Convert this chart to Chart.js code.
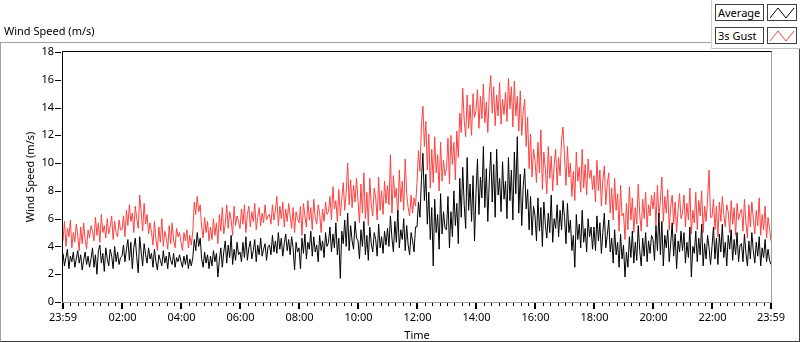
<!DOCTYPE html>
<html>
<head>
<meta charset="utf-8">
<title>Wind Speed</title>
<script src="https://cdn.jsdelivr.net/npm/chart.js@4"></script>
<style>
  html, body { margin: 0; padding: 0; background: #fff; }
  body { font-family: "Noto Sans", "Liberation Sans", sans-serif; font-size: 11px; color: #000; }
  #wrap { position: relative; width: 800px; height: 342px; overflow: hidden; }
  #panel {
    position: absolute; left: 0; top: 42px; width: 800px; height: 300px; box-sizing: border-box;
    border-top: 1px solid #a0a0a0; border-left: 1px solid #a0a0a0;
    border-right: 1px solid #404040; border-bottom: 1px solid #404040;
  }
  #windChart { position: absolute; left: 0; top: 0; }
  #title { position: absolute; left: 4px; top: 24px; line-height: 14px; white-space: nowrap; }
  #legend {
    position: absolute; left: 711px; top: 0; width: 89px; height: 49px; background: #fff;
    border-left: 1px solid #d0d0d0; border-bottom: 1px solid #c0c0c0; box-sizing: border-box;
  }
  .lg-name, .lg-icon {
    position: absolute; height: 17px; box-sizing: border-box; border: 1px solid #404040;
    background: #fff; line-height: 15px; white-space: nowrap;
  }
  .lg-name { left: 3px; width: 49px; padding-left: 2px; }
  .lg-icon { left: 55px; width: 30px; }
  .lg-icon svg { display: block; }
</style>
</head>
<body>
<div id="wrap">
  <div id="panel"></div>
  <canvas id="windChart" width="800" height="342"></canvas>
  <div id="title">Wind Speed (m/s)</div>
  <div id="legend">
    <div class="lg-name" style="top:4px">Average</div>
    <div class="lg-icon" style="top:4px"><svg width="28" height="15"><polyline points="2,13 10,3 18,13 26,3" fill="none" stroke="#000" stroke-width="1"/></svg></div>
    <div class="lg-name" style="top:27px">3s Gust</div>
    <div class="lg-icon" style="top:27px"><svg width="28" height="15"><polyline points="2,13 10,3 18,13 26,3" fill="none" stroke="#ff4040" stroke-width="1"/></svg></div>
  </div>
</div>
<script>
// one sample every 3 minutes starting at 23:59
const SAMPLE_STEP = 3;

const avgSpeed = [
  3.5, 2.6, 3.2, 3.8, 2.4, 3.3, 2.9, 3.6, 2.5, 3.1, 3.7, 2.8, 3.4, 2.3, 3.0, 3.6, 2.7, 3.3, 2.5, 3.1,
  3.9, 2.5, 3.4, 2.0, 3.7, 4.1, 2.8, 3.5, 2.2, 3.9, 3.1, 2.6, 3.8, 3.3, 2.4, 4.0, 2.9, 3.6, 2.7, 3.2,
  3.3, 4.1, 2.9, 3.8, 4.5, 3.0, 4.3, 2.4, 3.9, 4.6, 3.2, 2.1, 4.7, 3.6, 2.6, 4.2, 3.4, 2.8, 3.9, 3.1,
  3.5, 2.5, 3.8, 2.9, 2.3, 3.4, 3.0, 2.6, 3.7, 2.8, 3.3, 2.4, 3.6, 3.0, 2.7, 3.5, 2.5, 3.2, 2.9, 3.4,
  2.9, 2.5, 3.3, 2.7, 3.4, 2.4, 3.1, 2.6, 3.2, 4.5, 3.7, 5.0, 4.0, 4.6, 3.1, 2.5, 3.6, 2.8, 3.4, 2.4,
  3.3, 2.6, 3.7, 2.9, 3.5, 1.8, 3.0, 3.9, 2.5, 3.6, 4.4, 2.8, 4.1, 3.2, 4.8, 2.7, 3.8, 3.0, 4.3, 3.4,
  3.6, 2.9, 4.3, 3.2, 4.7, 3.0, 3.9, 4.4, 3.1, 3.7, 4.5, 2.9, 4.1, 3.4, 4.6, 3.3, 3.8, 4.2, 3.0, 4.0,
  4.1, 3.4, 4.8, 3.6, 4.4, 3.5, 5.0, 3.8, 4.6, 3.3, 4.2, 4.9, 3.7, 4.5, 3.4, 4.7, 3.9, 2.3, 4.3, 3.6,
  3.9, 2.4, 4.6, 3.5, 4.9, 3.1, 4.3, 3.8, 5.1, 3.3, 4.7, 3.6, 4.1, 2.9, 4.8, 3.7, 4.4, 3.2, 5.0, 4.0,
  4.3, 5.4, 3.6, 4.9, 3.9, 5.7, 3.4, 4.6, 1.7, 5.1, 4.2, 5.9, 4.0, 6.4, 3.7, 5.5, 4.4, 3.8, 5.8, 4.6,
  4.4, 3.1, 5.2, 4.0, 5.8, 3.4, 4.8, 3.0, 5.4, 4.2, 3.6, 5.0, 4.5, 3.3, 5.6, 3.9, 4.7, 3.5, 5.1, 4.1,
  5.3, 4.0, 6.2, 4.6, 3.6, 5.8, 4.3, 6.6, 3.9, 5.2, 4.5, 6.0, 3.7, 5.5, 4.1, 3.4, 5.0, 4.4, 3.6, 5.4,
  5.4, 7.2, 6.1, 8.8, 10.7, 7.3, 9.2, 5.6, 7.9, 4.5, 6.8, 2.6, 7.4, 5.0, 6.3, 3.8, 7.8, 4.9, 6.5, 5.3,
  5.2, 7.6, 3.9, 6.5, 4.7, 8.0, 5.5, 7.1, 4.2, 8.9, 6.1, 9.7, 7.0, 5.3, 10.4, 6.6, 8.5, 5.8, 9.1, 4.4,
  7.9, 10.3, 6.3, 9.0, 7.5, 11.2, 6.8, 9.6, 5.8, 8.7, 10.8, 7.2, 9.9, 6.1, 11.0, 7.7, 8.9, 6.5, 10.1, 7.4,
  8.7, 6.0, 10.4, 7.3, 9.5, 5.9, 10.8, 7.8, 11.9, 6.4, 9.2, 5.5, 8.3, 9.6, 6.7, 8.1, 5.2, 7.6, 4.8, 6.9,
  6.2, 4.4, 7.5, 5.1, 6.8, 4.0, 7.2, 5.6, 4.6, 6.4, 5.0, 7.7, 4.3, 6.0, 5.3, 7.0, 4.7, 6.6, 5.2, 7.3,
  6.1, 4.2, 7.1, 5.0, 5.9, 3.7, 4.8, 2.5, 6.3, 4.5, 5.6, 3.9, 6.6, 4.3, 5.3, 3.6, 6.0, 4.7, 5.4, 3.8,
  5.4, 3.7, 6.2, 4.4, 5.7, 3.5, 5.0, 6.4, 3.9, 4.8, 5.9, 3.6, 4.6, 2.8, 5.2, 3.4, 4.3, 2.5, 4.9, 3.1,
  4.1, 1.8, 3.6, 2.5, 4.7, 3.2, 5.1, 2.8, 4.3, 3.0, 5.5, 3.7, 2.6, 4.6, 3.3, 5.0, 2.9, 4.4, 3.5, 4.8,
  4.5, 3.0, 5.5, 3.7, 6.4, 3.4, 5.8, 2.6, 4.8, 3.9, 5.2, 2.9, 4.2, 5.7, 3.3, 4.9, 2.4, 4.4, 3.6, 5.1,
  3.7, 5.0, 2.8, 4.3, 3.2, 5.4, 1.8, 4.0, 3.5, 5.1, 2.9, 4.6, 3.4, 5.6, 2.6, 4.2, 3.1, 4.8, 3.9, 2.7,
  4.0, 5.4, 3.1, 4.6, 2.7, 4.9, 3.6, 5.6, 3.2, 4.3, 2.6, 4.8, 3.8, 5.2, 3.0, 4.5, 3.4, 5.0, 2.9, 4.1,
  4.2, 2.9, 4.9, 3.5, 2.6, 4.4, 3.1, 5.0, 3.7, 2.8, 4.3, 3.3, 4.7, 2.6, 3.9, 3.2, 4.5, 2.9, 3.8, 3.0,
  2.7
];

const gustSpeed = [
  4.4, 5.8, 4.0, 5.3, 4.7, 5.9, 3.9, 5.0, 4.3, 5.6, 4.8, 3.7, 5.4, 4.2, 5.7, 4.5, 3.8, 5.2, 4.6, 5.5,
  5.1, 4.4, 6.1, 4.8, 5.7, 4.3, 6.3, 5.0, 5.5, 4.6, 6.0, 4.9, 5.4, 6.2, 4.5, 5.8, 5.0, 4.7, 5.9, 5.2,
  5.2, 6.2, 4.7, 6.6, 5.5, 7.0, 5.8, 6.4, 5.0, 6.9, 6.0, 5.3, 7.7, 6.5, 5.1, 7.1, 5.6, 6.3, 4.9, 5.7,
  5.0, 4.1, 5.8, 4.5, 3.7, 5.4, 4.3, 6.0, 4.0, 5.1, 4.6, 3.8, 5.5, 4.2, 5.7, 4.4, 3.9, 5.3, 4.7, 5.0,
  4.3, 3.7, 5.0, 4.4, 5.2, 3.9, 4.8, 4.1, 5.1, 7.2, 6.3, 7.6, 6.5, 7.0, 5.4, 4.6, 6.1, 5.0, 5.8, 4.4,
  5.4, 4.5, 6.0, 4.8, 5.7, 4.2, 6.3, 5.1, 6.8, 4.9, 5.6, 7.0, 5.3, 6.5, 5.9, 4.8, 6.9, 5.5, 6.2, 5.8,
  5.3, 6.7, 5.6, 7.0, 5.0, 6.3, 6.9, 5.4, 6.5, 5.8, 7.1, 5.2, 6.1, 6.8, 5.5, 6.4, 5.7, 7.0, 5.9, 6.2,
  6.3, 5.6, 7.0, 5.9, 6.6, 7.6, 5.5, 6.9, 6.0, 7.2, 5.4, 6.7, 5.8, 7.1, 6.2, 5.3, 6.8, 5.0, 6.5, 6.0,
  5.7, 6.9, 4.8, 7.1, 6.2, 5.4, 7.3, 5.9, 6.8, 5.2, 7.4, 6.1, 5.6, 7.0, 6.4, 5.0, 6.7, 5.8, 7.2, 6.3,
  6.5, 7.6, 5.9, 8.3, 6.7, 7.3, 5.8, 8.1, 6.2, 7.4, 8.6, 6.6, 7.9, 10.0, 7.0, 8.8, 6.8, 8.4, 7.2, 8.9,
  7.3, 5.7, 8.5, 6.4, 9.3, 6.0, 7.9, 5.5, 8.9, 7.0, 6.2, 8.2, 7.5, 5.9, 9.0, 6.6, 8.0, 6.3, 8.7, 7.1,
  8.4, 7.0, 10.6, 6.4, 9.1, 7.5, 8.2, 6.1, 9.5, 7.2, 8.7, 6.6, 10.3, 7.8, 6.8, 6.2, 7.7, 6.4, 7.5, 6.9,
  8.6, 10.9, 9.4, 12.7, 14.1, 11.2, 13.0, 9.5, 12.1, 8.2, 11.0, 8.6, 11.9, 9.3, 10.6, 8.0, 11.5, 8.7, 10.2, 9.1,
  9.6, 11.8, 8.5, 12.0, 9.9, 11.5, 8.8, 12.3, 10.4, 13.6, 12.2, 15.4, 13.1, 11.9, 14.9, 12.5, 14.2, 12.0, 15.0, 13.3,
  13.8, 15.3, 12.5, 14.8, 13.2, 15.7, 12.9, 14.4, 12.2, 15.0, 16.3, 13.6, 15.5, 12.7, 14.9, 13.4, 15.8, 12.8, 14.6, 13.5,
  15.1, 13.0, 16.1, 13.9, 15.5, 12.6, 15.9, 13.4, 14.8, 12.3, 15.2, 12.0, 13.7, 14.6, 11.2, 13.3, 9.6, 12.1, 9.0, 11.0,
  10.2, 8.6, 11.5, 9.3, 12.4, 8.1, 10.8, 9.6, 7.8, 11.2, 8.9, 10.5, 8.0, 9.9, 11.0, 8.4, 10.4, 9.1, 11.7, 12.6,
  10.5, 8.4, 11.2, 9.0, 10.0, 7.6, 9.4, 7.3, 10.8, 8.7, 9.7, 7.9, 11.0, 8.2, 9.9, 7.7, 10.3, 8.9, 9.5, 8.1,
  9.1, 7.2, 10.2, 8.0, 9.5, 6.9, 8.8, 9.8, 7.0, 8.5, 9.3, 6.4, 8.2, 5.9, 8.9, 6.6, 7.8, 5.1, 8.4, 6.2,
  6.4, 4.5, 7.1, 5.2, 8.3, 5.9, 7.5, 5.0, 6.8, 5.6, 8.5, 6.3, 5.1, 7.4, 6.0, 7.9, 5.4, 7.0, 6.2, 7.7,
  6.7, 7.9, 5.5, 8.4, 6.1, 7.3, 9.0, 5.8, 7.6, 6.4, 8.1, 5.2, 6.9, 7.7, 5.6, 7.2, 5.0, 6.6, 7.8, 6.0,
  6.4, 7.7, 5.4, 7.1, 5.9, 8.2, 4.9, 6.6, 5.7, 7.9, 5.2, 7.3, 6.2, 8.0, 5.0, 6.9, 5.8, 7.4, 9.5, 6.1,
  6.1, 7.4, 5.2, 6.9, 4.7, 7.2, 5.8, 7.6, 6.3, 5.4, 7.0, 6.5, 5.0, 7.3, 5.6, 6.8, 4.8, 7.1, 5.9, 6.4,
  6.7, 5.1, 7.4, 5.7, 4.6, 7.0, 5.4, 7.2, 6.0, 4.9, 6.6, 5.5, 7.5, 4.8, 6.3, 5.2, 6.9, 4.6, 6.1, 5.3,
  4.4
];

// x tick positions in minutes after 23:59, and their labels
const tickMinutes = [0, 121, 241, 361, 481, 601, 721, 841, 961, 1081, 1201, 1321, 1440];
const tickLabels = ['23:59', '02:00', '04:00', '06:00', '08:00', '10:00', '12:00',
                    '14:00', '16:00', '18:00', '20:00', '22:00', '23:59'];

const toPoints = arr => arr.map((v, i) => ({ x: i * SAMPLE_STEP, y: v }));

const fontSpec = { family: '"Noto Sans", "Liberation Sans", sans-serif', size: 11 };

// LabVIEW-like frame: black top/left, grey bottom/right, plus tick marks
const framePlugin = {
  id: 'lvFrame',
  afterDraw(chart) {
    const { ctx, chartArea: a, scales: { x, y } } = chart;
    ctx.save();
    ctx.strokeStyle = '#000';
    x.ticks.forEach(t => {
      const px = Math.round(x.getPixelForValue(t.value));
      ctx.lineWidth = t.major ? 2 : 1;
      const off = t.major ? 0 : 0.5;
      ctx.beginPath();
      ctx.moveTo(px + off, a.bottom + 1);
      ctx.lineTo(px + off, a.bottom + (t.major ? 7 : 4));
      ctx.stroke();
    });
    ctx.lineWidth = 1;
    y.ticks.forEach(t => {
      const py = Math.round(y.getPixelForValue(t.value)) + 0.5;
      ctx.beginPath();
      ctx.moveTo(a.left - 8, py);
      ctx.lineTo(a.left - 2, py);
      ctx.stroke();
    });
    ctx.strokeStyle = '#a0a0a0';
    ctx.beginPath();
    ctx.moveTo(a.right + 0.5, a.top - 1);
    ctx.lineTo(a.right + 0.5, a.bottom + 0.5);
    ctx.lineTo(a.left - 1, a.bottom + 0.5);
    ctx.stroke();
    ctx.strokeStyle = '#000';
    ctx.beginPath();
    ctx.moveTo(a.left - 0.5, a.bottom);
    ctx.lineTo(a.left - 0.5, a.top - 0.5);
    ctx.lineTo(a.right + 0.5, a.top - 0.5);
    ctx.stroke();
    ctx.restore();
  }
};

new Chart(document.getElementById('windChart'), {
  type: 'line',
  data: {
    datasets: [
      { label: 'Average', data: toPoints(avgSpeed), borderColor: '#000000', borderWidth: 1 },
      { label: '3s Gust', data: toPoints(gustSpeed), borderColor: '#ff4040', borderWidth: 1 }
    ]
  },
  options: {
    responsive: false,
    animation: false,
    parsing: false,
    elements: { point: { radius: 0 }, line: { tension: 0 } },
    layout: { padding: { left: 0, top: 52, right: 29, bottom: 0 } },
    plugins: { legend: { display: false }, tooltip: { enabled: false } },
    scales: {
      x: {
        type: 'linear', min: 0, max: 1440,
        afterBuildTicks(scale) {
          const ticks = [];
          tickMinutes.forEach((m, i) => {
            ticks.push({ value: m, major: true });
            const next = tickMinutes[i + 1];
            if (next !== undefined) {
              for (let k = 1; k < 8; k++) ticks.push({ value: m + (next - m) * k / 8, major: false });
            }
          });
          scale.ticks = ticks;
        },
        afterFit(scale) { scale.height = 40; },
        grid: { display: false, drawTicks: false },
        border: { display: false },
        ticks: {
          autoSkip: false, maxRotation: 0, padding: 9, color: '#000', font: fontSpec,
          callback: (v) => {
            const i = tickMinutes.indexOf(v);
            return i >= 0 ? tickLabels[i] : '';
          }
        },
        title: { display: true, text: 'Time', color: '#000', font: fontSpec, padding: { top: 0, bottom: 0 } }
      },
      y: {
        min: 0, max: 18,
        afterFit(scale) { scale.width = 63; },
        grid: { display: false, drawTicks: false },
        border: { display: false },
        ticks: { stepSize: 2, padding: 9, color: '#000', font: fontSpec },
        title: { display: true, text: 'Wind Speed (m/s)', color: '#000', font: fontSpec, padding: { top: 24, bottom: 0 } }
      }
    }
  },
  plugins: [framePlugin]
});
</script>
</body>
</html>
